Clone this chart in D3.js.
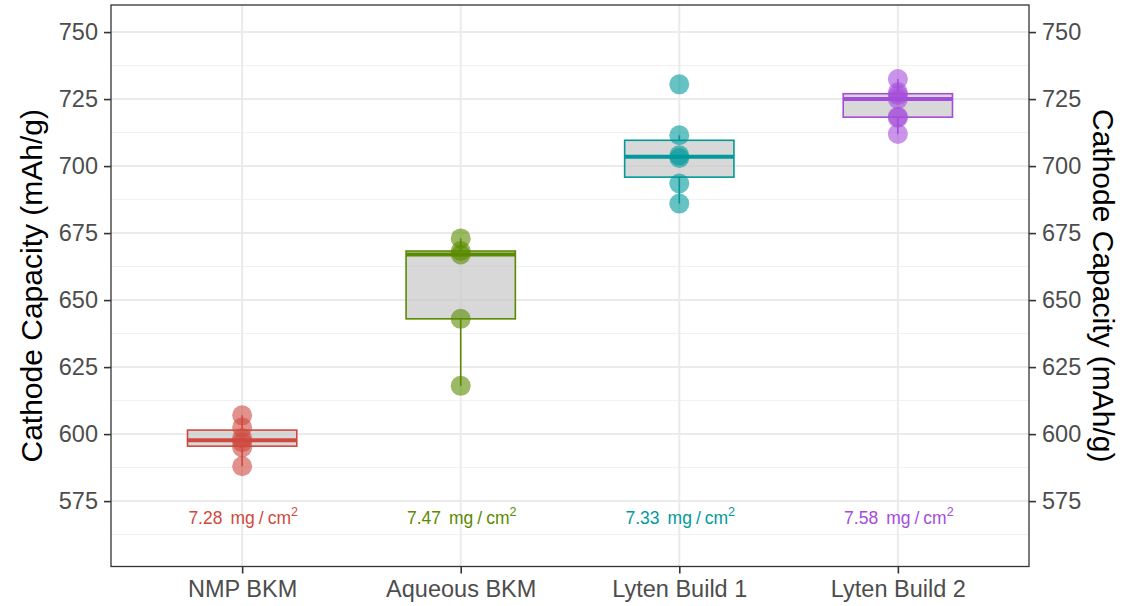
<!DOCTYPE html>
<html>
<head>
<meta charset="utf-8">
<script src="https://cdn.jsdelivr.net/npm/d3@7"></script>
<style>
  body { margin: 0; background: #fff; }
  svg { display: block; font-family: "Liberation Sans", Arial, sans-serif; }
</style>
</head>
<body>
<svg id="chart" width="1135" height="606"></svg>
<script>
// Cathode capacity per build (mAh/g)
const categories = ["NMP BKM", "Aqueous BKM", "Lyten Build 1", "Lyten Build 2"];
const nmpBkm      = [588, 595, 597, 598.5, 602.5, 607];
const aqueousBkm  = [618, 643, 667, 668.3, 673];
const lytenBuild1 = [686, 693.5, 703, 704, 711.5, 730.5];
const lytenBuild2 = [712, 718, 718.5, 725, 726.5, 727.5, 732.5];
const seriesValues = [nmpBkm, aqueousBkm, lytenBuild1, lytenBuild2];
const loadings = ["7.28", "7.47", "7.33", "7.58"];
const loadingLabelY = 569;
const yTicks = [575, 600, 625, 650, 675, 700, 725, 750];
const yMinor = [562.5, 587.5, 612.5, 637.5, 662.5, 687.5, 712.5, 737.5];
const colors = ["#CE4A40", "#5A8A00", "#009A9B", "#A54CDB"];

const svg = d3.select("#chart");
const panel = { left: 111, right: 1029, top: 5, bottom: 566.5 };

const x = d3.scalePoint()
  .domain(categories)
  .range([panel.left, panel.right])
  .padding(0.6);
const step = x.step();

const y = d3.scaleLinear()
  .domain([550.6, 760.1])
  .range([panel.bottom, panel.top]);

// grid
const grid = svg.append("g");
grid.selectAll(".minor").data(yMinor).join("line")
  .attr("x1", panel.left).attr("x2", panel.right)
  .attr("y1", d => y(d)).attr("y2", d => y(d))
  .attr("stroke", "#F0F0F0").attr("stroke-width", 1);
grid.selectAll(".major").data(yTicks).join("line")
  .attr("x1", panel.left).attr("x2", panel.right)
  .attr("y1", d => y(d)).attr("y2", d => y(d))
  .attr("stroke", "#EBEBEB").attr("stroke-width", 2);
grid.selectAll(".vmajor").data(categories).join("line")
  .attr("x1", d => x(d)).attr("x2", d => x(d))
  .attr("y1", panel.top).attr("y2", panel.bottom)
  .attr("stroke", "#EBEBEB").attr("stroke-width", 2);

// box statistics (R type-7 quantiles, 1.5 IQR whiskers)
function stats(vals) {
  const s = vals.slice().sort(d3.ascending);
  const q1 = d3.quantile(s, 0.25), med = d3.quantile(s, 0.5), q3 = d3.quantile(s, 0.75);
  const iqr = q3 - q1;
  const lo = d3.min(s.filter(v => v >= q1 - 1.5 * iqr));
  const hi = d3.max(s.filter(v => v <= q3 + 1.5 * iqr));
  return { q1, med, q3, lo, hi };
}

const boxW = step * 0.5;
categories.forEach((cat, i) => {
  const st = stats(seriesValues[i]);
  const cx = x(cat);
  const g = svg.append("g");
  const col = colors[i];
  g.append("line").attr("x1", cx).attr("x2", cx)
    .attr("y1", y(st.q3)).attr("y2", y(st.hi))
    .attr("stroke", col).attr("stroke-width", 1.6);
  g.append("line").attr("x1", cx).attr("x2", cx)
    .attr("y1", y(st.q1)).attr("y2", y(st.lo))
    .attr("stroke", col).attr("stroke-width", 1.6);
  g.append("rect")
    .attr("x", cx - boxW / 2).attr("width", boxW)
    .attr("y", y(st.q3)).attr("height", y(st.q1) - y(st.q3))
    .attr("fill", "#C8C8C8").attr("fill-opacity", 0.7)
    .attr("stroke", col).attr("stroke-width", 1.6);
  g.append("line")
    .attr("x1", cx - boxW / 2).attr("x2", cx + boxW / 2)
    .attr("y1", y(st.med)).attr("y2", y(st.med))
    .attr("stroke", col).attr("stroke-width", 4);
  g.selectAll("circle").data(seriesValues[i]).join("circle")
    .attr("cx", cx).attr("cy", d => y(d)).attr("r", 10)
    .attr("fill", col).attr("fill-opacity", 0.6);

  // areal loading label
  const t = svg.append("text")
    .attr("x", cx + 1).attr("y", y(loadingLabelY) + 6.5)
    .attr("text-anchor", "middle")
    .attr("fill", col).attr("font-size", 17.5);
  t.append("tspan").text(loadings[i]);
  t.append("tspan").attr("dx", 8).text("mg");
  t.append("tspan").attr("dx", 4).text("/");
  t.append("tspan").attr("dx", 4).text("cm");
  t.append("tspan").attr("dy", -8).attr("font-size", 12.5).text("2");
});

// panel border
svg.append("rect")
  .attr("x", panel.left).attr("y", panel.top)
  .attr("width", panel.right - panel.left).attr("height", panel.bottom - panel.top)
  .attr("fill", "none").attr("stroke", "#333333").attr("stroke-width", 1.3);

// axes
function styleAxis(g) {
  g.select(".domain").remove();
  g.selectAll(".tick line").attr("stroke", "#333333").attr("stroke-width", 1.6);
  g.selectAll(".tick text").attr("fill", "#4D4D4D").attr("font-size", 23.5)
    .attr("font-family", "Liberation Sans, Arial, sans-serif");
}
svg.append("g").attr("transform", `translate(${panel.left},0)`)
  .call(d3.axisLeft(y).tickValues(yTicks).tickSize(7).tickPadding(6))
  .call(styleAxis);
svg.append("g").attr("transform", `translate(${panel.right},0)`)
  .call(d3.axisRight(y).tickValues(yTicks).tickSize(7).tickPadding(6))
  .call(styleAxis);
svg.append("g").attr("transform", `translate(0,${panel.bottom})`)
  .call(d3.axisBottom(x).tickSize(7).tickPadding(7))
  .call(styleAxis);

// axis titles
const midY = (panel.top + panel.bottom) / 2;
svg.append("text")
  .attr("transform", `translate(42,${midY}) rotate(-90)`)
  .attr("text-anchor", "middle")
  .attr("font-size", 30).attr("fill", "#000")
  .text("Cathode Capacity (mAh/g)");
svg.append("text")
  .attr("transform", `translate(1093,${midY}) rotate(90)`)
  .attr("text-anchor", "middle")
  .attr("font-size", 30).attr("fill", "#000")
  .text("Cathode Capacity (mAh/g)");
</script>
</body>
</html>
